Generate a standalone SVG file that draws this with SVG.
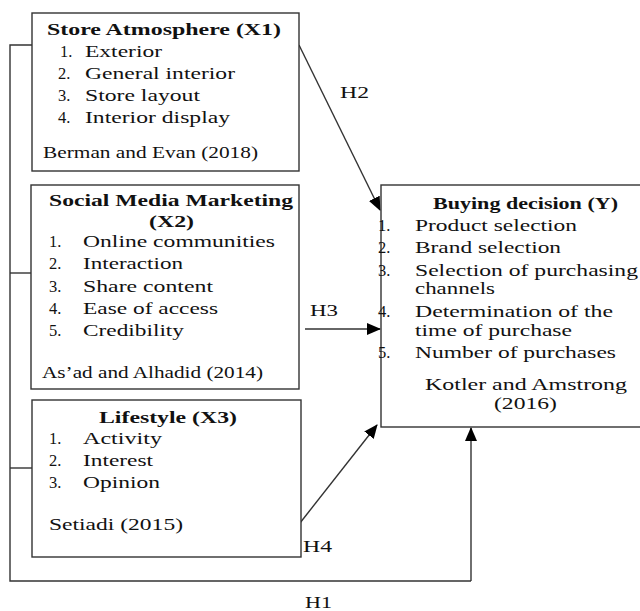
<svg xmlns="http://www.w3.org/2000/svg" width="640" height="611" viewBox="0 0 640 611">
<style>
text{font-family:"Liberation Serif","Times New Roman",serif;font-size:16.5px;fill:#111}
.b{font-weight:bold}
.box{fill:#fff;stroke:#333;stroke-width:1.4}
.ln{fill:none;stroke:#333;stroke-width:1.4}
</style>
<defs>
<marker id="ah" markerUnits="userSpaceOnUse" markerWidth="14" markerHeight="12" refX="13" refY="6" orient="auto">
<path d="M0,0 L14,6 L0,12 Z" fill="#000"/>
</marker>
</defs>
<rect width="640" height="611" fill="#fff"/>
<g id="connectors">
<polyline class="ln" points="32,45 10,45 10,581 471,581"/>
<line class="ln" x1="10" y1="273" x2="31" y2="273"/>
<line class="ln" x1="10" y1="468" x2="32" y2="468"/>
<line class="ln" x1="471" y1="581" x2="471" y2="428" stroke-width="2" marker-end="url(#ah)"/>
<line class="ln" x1="299" y1="45" x2="380" y2="210" marker-end="url(#ah)"/>
<line class="ln" x1="305" y1="329" x2="380" y2="329" marker-end="url(#ah)"/>
<line class="ln" x1="300" y1="523" x2="377" y2="425" marker-end="url(#ah)"/>
<text x="340" y="98" textLength="29" lengthAdjust="spacingAndGlyphs">H2</text>
<text x="310" y="316" textLength="28" lengthAdjust="spacingAndGlyphs">H3</text>
<text x="303" y="552" textLength="29" lengthAdjust="spacingAndGlyphs">H4</text>
<text x="305" y="608" textLength="27" lengthAdjust="spacingAndGlyphs">H1</text>
</g>
<g id="x1">
<rect class="box" x="32" y="13" width="267" height="158"/>
<text class="b" x="47" y="35" textLength="234" lengthAdjust="spacingAndGlyphs">Store Atmosphere (X1)</text>
<text x="60" y="57">1.</text><text x="85" y="57" textLength="77" lengthAdjust="spacingAndGlyphs">Exterior</text>
<text x="58" y="79">2.</text><text x="85" y="79" textLength="150" lengthAdjust="spacingAndGlyphs">General interior</text>
<text x="58" y="101">3.</text><text x="85" y="101" textLength="115" lengthAdjust="spacingAndGlyphs">Store layout</text>
<text x="58" y="123">4.</text><text x="85" y="123" textLength="145" lengthAdjust="spacingAndGlyphs">Interior display</text>
<text x="43" y="158" textLength="215" lengthAdjust="spacingAndGlyphs">Berman and Evan (2018)</text>
</g>
<g id="x2">
<rect class="box" x="31" y="185" width="268" height="204"/>
<text class="b" x="49" y="206" textLength="244" lengthAdjust="spacingAndGlyphs">Social Media Marketing</text>
<text class="b" x="149" y="227" textLength="45" lengthAdjust="spacingAndGlyphs">(X2)</text>
<text x="49" y="247">1.</text><text x="83" y="247" textLength="192" lengthAdjust="spacingAndGlyphs">Online communities</text>
<text x="49" y="269">2.</text><text x="83" y="269" textLength="100" lengthAdjust="spacingAndGlyphs">Interaction</text>
<text x="49" y="292">3.</text><text x="83" y="292" textLength="130" lengthAdjust="spacingAndGlyphs">Share content</text>
<text x="49" y="314">4.</text><text x="83" y="314" textLength="135" lengthAdjust="spacingAndGlyphs">Ease of access</text>
<text x="49" y="336">5.</text><text x="83" y="336" textLength="101" lengthAdjust="spacingAndGlyphs">Credibility</text>
<text x="42" y="378" textLength="221" lengthAdjust="spacingAndGlyphs">As’ad and Alhadid (2014)</text>
</g>
<g id="x3">
<rect class="box" x="32" y="400" width="269" height="157"/>
<text class="b" x="99" y="423" textLength="138" lengthAdjust="spacingAndGlyphs">Lifestyle (X3)</text>
<text x="49" y="444">1.</text><text x="83" y="444" textLength="79" lengthAdjust="spacingAndGlyphs">Activity</text>
<text x="49" y="466">2.</text><text x="83" y="466" textLength="70" lengthAdjust="spacingAndGlyphs">Interest</text>
<text x="49" y="488">3.</text><text x="83" y="488" textLength="77" lengthAdjust="spacingAndGlyphs">Opinion</text>
<text x="49" y="530" textLength="134" lengthAdjust="spacingAndGlyphs">Setiadi (2015)</text>
</g>
<g id="y">
<rect class="box" x="381" y="185" width="270" height="242"/>
<text class="b" x="433" y="209" textLength="185" lengthAdjust="spacingAndGlyphs">Buying decision (Y)</text>
<text x="378" y="231">1.</text><text x="415" y="231" textLength="162" lengthAdjust="spacingAndGlyphs">Product selection</text>
<text x="378" y="253">2.</text><text x="415" y="253" textLength="146" lengthAdjust="spacingAndGlyphs">Brand selection</text>
<text x="378" y="276">3.</text><text x="415" y="276" textLength="223" lengthAdjust="spacingAndGlyphs">Selection of purchasing</text>
<text x="415" y="294" textLength="80" lengthAdjust="spacingAndGlyphs">channels</text>
<text x="378" y="317">4.</text><text x="415" y="317" textLength="198" lengthAdjust="spacingAndGlyphs">Determination of the</text>
<text x="415" y="336" textLength="157" lengthAdjust="spacingAndGlyphs">time of purchase</text>
<text x="378" y="358">5.</text><text x="415" y="358" textLength="201" lengthAdjust="spacingAndGlyphs">Number of purchases</text>
<text x="425" y="390" textLength="202" lengthAdjust="spacingAndGlyphs">Kotler and Amstrong</text>
<text x="494" y="409" textLength="63" lengthAdjust="spacingAndGlyphs">(2016)</text>
</g>
</svg>
